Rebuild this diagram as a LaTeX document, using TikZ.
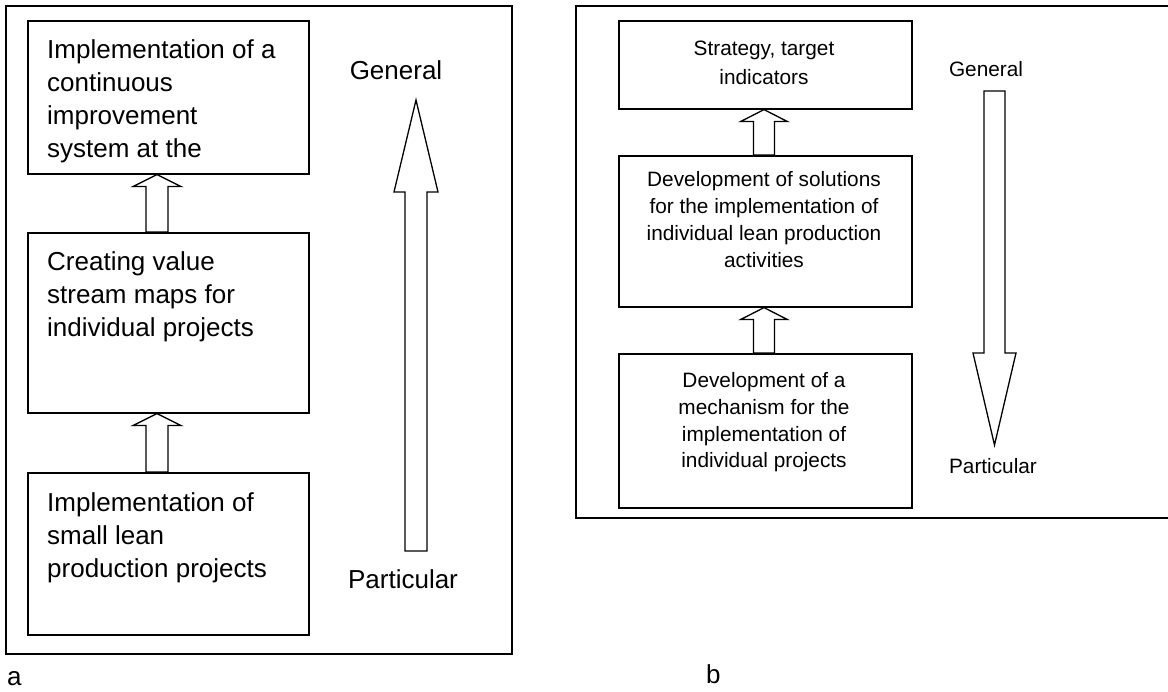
\documentclass[tikz,border=0pt]{standalone}
\usepackage{fontspec}
\setmainfont{Liberation Sans}
\usetikzlibrary{calc}
\begin{document}
\begin{tikzpicture}[x=1pt,y=-1pt,
  frame/.style={draw, line width=1.7pt},
  box/.style={draw, line width=1.6pt},
  blk/.style={draw, line width=1.3pt, line join=miter},
  txtA/.style={inner sep=0pt, font=\fontsize{26}{33}\selectfont, align=left},
  txtB/.style={inner sep=0pt, font=\fontsize{20.8}{27}\selectfont, align=center},
  lblA/.style={inner sep=0pt, font=\fontsize{26}{30}\selectfont},
  lblB/.style={inner sep=0pt, font=\fontsize{20.8}{25}\selectfont}]
\useasboundingbox (0,0) rectangle (1168,692);
% ---------- panel a ----------
\draw[frame] (6,6) rectangle (512,654);
\node[box, minimum width=281pt, minimum height=153pt, inner sep=0pt, anchor=north west] (a1) at (27,20) {};
\node[box, minimum width=281pt, minimum height=180pt, inner sep=0pt, anchor=north west] (a2) at (27,232) {};
\node[box, minimum width=281pt, minimum height=162pt, inner sep=0pt, anchor=north west] (a3) at (27,472) {};
\begin{scope}
\clip (a1.north west) rectangle (a1.south east);
\node[txtA, anchor=base west] (t1) at (47,158) {Implementation of a\\continuous\\improvement\\system at the};
\end{scope}
\node[txtA, anchor=base west] (t2) at (47,337) {Creating value\\stream maps for\\individual projects};
\node[txtA, anchor=base west] (t3) at (47,577) {Implementation of\\small lean\\production projects};
\coordinate (ax) at (157,0);
\foreach \lo/\hi in {a1/a2, a2/a3}{
  \draw[blk] (ax|-\lo.south) -- ++(24,12) -- ++(-13,0) -- ($(ax|-\hi.north)+(11,0)$)
    -- ($(ax|-\hi.north)+(-11,0)$) -- ($(ax|-\lo.south)+(-11,12)$) -- ++(-13,0) -- cycle;
}
\node[lblA, anchor=base] (ga) at (396,80) {General};
\node[lblA, anchor=base] (pa) at (403,588) {Particular};
\coordinate (atip) at (416,100);
\coordinate (abot) at (416,551);
\draw[blk] (atip) -- ($(atip)+(22,92)$) -- ($(atip)+(11,92)$) -- ($(abot)+(11,0)$)
  -- ($(abot)+(-11,0)$) -- ($(atip)+(-11,92)$) -- ($(atip)+(-22,92)$) -- cycle;
\node[lblA, anchor=base west] (la) at (7,685) {a};
% ---------- panel b ----------
\draw[frame] (1180,6) -- (576,6) -- (576,518) -- (1180,518);
\node[box, minimum width=293pt, minimum height=88pt, inner sep=0pt, anchor=north west] (b1) at (618,20) {};
\node[box, minimum width=293pt, minimum height=151pt, inner sep=0pt, anchor=north west] (b2) at (618,155) {};
\node[box, minimum width=293pt, minimum height=154pt, inner sep=0pt, anchor=north west] (b3) at (618,353) {};
\node[txtB, font=\fontsize{20.8}{29}\selectfont, anchor=base] (u1) at (764,85) {Strategy, target\\indicators};
\node[txtB, anchor=base] (u2) at (764,268) {Development of solutions\\for the implementation of\\individual lean production\\activities};
\node[txtB, anchor=base] (u3) at (764,468) {Development of a\\mechanism for the\\implementation of\\individual projects};
\coordinate (bx) at (764,0);
\foreach \lo/\hi in {b1/b2, b2/b3}{
  \draw[blk] (bx|-\lo.south) -- ++(23.5,12) -- ++(-13,0) -- ($(bx|-\hi.north)+(10.5,0)$)
    -- ($(bx|-\hi.north)+(-10.5,0)$) -- ($(bx|-\lo.south)+(-10.5,12)$) -- ++(-13,0) -- cycle;
}
\node[lblB, anchor=base] (gb) at (986,77) {General};
\node[lblB, anchor=base] (pb) at (993,474) {Particular};
\coordinate (btop) at (994.5,91);
\coordinate (btip) at (994.5,445);
\draw[blk] (btip) -- ($(btip)+(21.5,-92)$) -- ($(btip)+(10.5,-92)$) -- ($(btop)+(10.5,0)$)
  -- ($(btop)+(-10.5,0)$) -- ($(btip)+(-10.5,-92)$) -- ($(btip)+(-21.5,-92)$) -- cycle;
\node[lblA, anchor=base west] (lb) at (706,683) {b};
\end{tikzpicture}
\end{document}
